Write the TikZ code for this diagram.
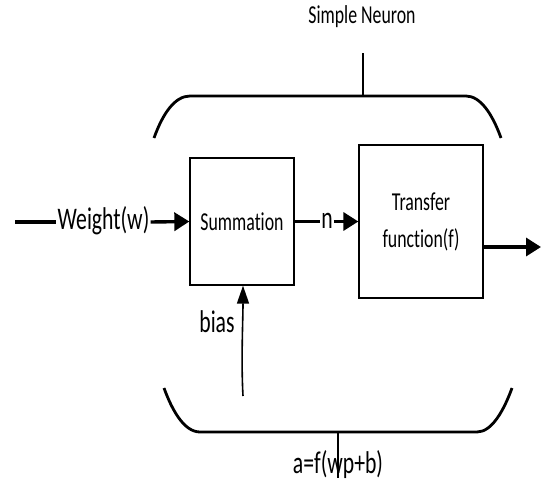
\documentclass[tikz,border=0pt]{standalone}
\usepackage{fontspec}
\usepackage{graphicx}
\setmainfont{Carlito}[Ligatures=NoCommon]
\usetikzlibrary{arrows.meta}
% tall, narrow lettering
\newcommand\tall[1]{\scalebox{1}[1.45]{#1}}
% keep "t" and "i" as separate letters
\newcommand\ti{t\kern0pt i}
\tikzset{
  blk/.style={draw=black, line width=1.3pt, fill=white, inner sep=0pt},
  lbl/.style={inner sep=1pt, fill=white},
  big/.style={font=\fontsize{21.7}{26}\selectfont},
  small/.style={font=\fontsize{17.8}{37}\selectfont},
  brace/.style={line width=2.8pt},
  stem/.style={line width=2.2pt},
  flow/.style={line width=3.4pt, -{Triangle[length=15pt,width=18pt]}},
  plain/.style={line width=3.4pt},
}
\begin{document}
\begin{tikzpicture}[x=1pt, y=-1pt]
\useasboundingbox (0,0) rectangle (543,482);

% blocks
\node[blk, minimum width=104pt, minimum height=127pt, small] (sum) at (242,221.5) {\tall{Summa\ti on}};
\node[blk, minimum width=124pt, minimum height=153pt, small, align=center] (tf) at (421,221.5)
  {\tall{Transfer}\\\tall{func\ti on(f)}};

% input weight
\coordinate (w0) at (15,222);
\node[lbl, big] (wt) at (103.5,221) {\tall{Weight(w)}};
\draw[plain] (w0) -- (wt.west |- w0);
\draw[flow] (wt.east |- w0) -- (sum.west);

% net input n
\node[lbl, big] (n) at (327,221) {\tall{n}};
\draw[plain] (sum.east) -- (n.west |- sum.east);
\draw[flow] (n.east |- sum.east) -- (tf.west);

% output
\coordinate (out) at (541,247);
\draw[flow] (tf.east |- out) -- (out);

% bias
\coordinate (b0) at (243,396);
\node[big] (bias) at (217,322) {\tall{bias}};
\draw[line width=1.6pt, -{Triangle[length=18pt,width=12pt]}] (b0) .. controls (241,360) and (243,320) .. (sum.south -| b0);

% top brace
\coordinate (tl) at (154,138);
\coordinate (tr) at (501,138);
\coordinate (tm) at (363,96);
\coordinate (tt) at (363,53);
\draw[brace] (tl) .. controls (163,113) and (175,96) .. (190,96) -- (466,96)
  .. controls (480,96) and (492,113) .. (tr);
\draw[stem] (tm) -- (tt);
\node[small] (title) at (362,17) {\tall{Simple Neuron}};

% bottom brace
\coordinate (bl) at (164,388);
\coordinate (br) at (512,388);
\coordinate (bm) at (338,432);
\coordinate (bb) at (338,478);
\node[big] (eq) at (338,465) {\tall{a=f(wp+b)}};
\draw[brace] (bl) .. controls (172,410) and (184,432) .. (200,432) -- (477,432)
  .. controls (492,432) and (504,410) .. (br);
\draw[stem] (bm) -- (bb);
\end{tikzpicture}
\end{document}
